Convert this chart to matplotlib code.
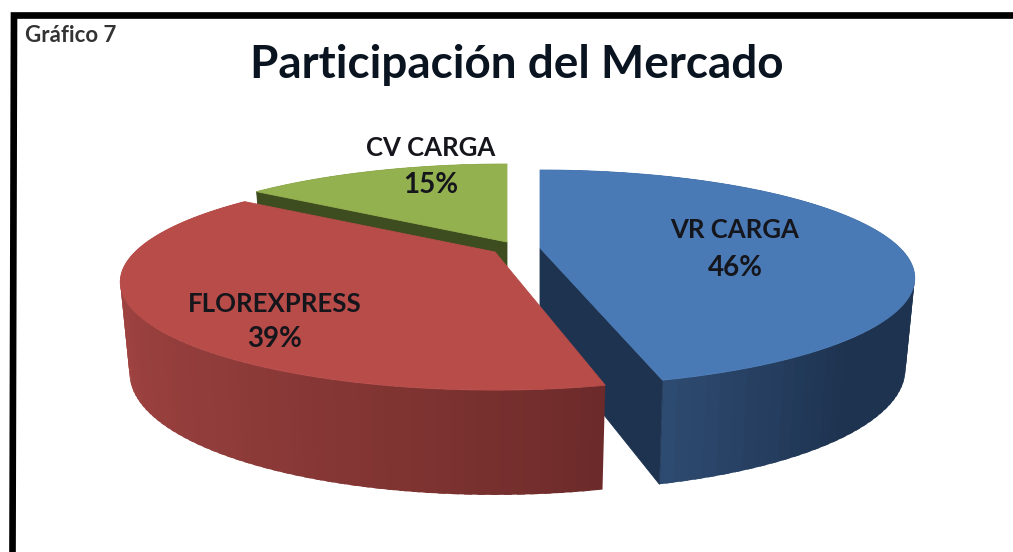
#!/usr/bin/env python3
# -*- coding: utf-8 -*-
"""
Description: 3D looking exploded pie chart of market share, Grafico 7
Outputs: out.png
"""
import numpy as np
import matplotlib
matplotlib.use("Agg")
import matplotlib.pyplot as plt
from matplotlib.colors import to_rgb

# chart data
categories = ["VR CARGA", "FLOREXPRESS", "CV CARGA"]
shares = [46, 39, 15]
title = "Participación del Mercado"
chart_tag = "Gráfico 7"

# look of each slice, same order as categories
centers = [(540, 248), (495, 252), (507, 242)]
top_colors = ["#4a7ab5", "#b74c49", "#94b150"]
side_stops = [
    [(138, "#1e3350"), (165, "#2d4a70")],
    [(167, "#6c2a2a"), (185, "#7c3230"), (215, "#8f3c3a"), (250, "#a04341"), (280, "#ad4845")],
    [(300, "#3e4d20"), (360, "#3e4d20")],
]
cut_colors = ["#1e3350", "#6c2a2a", "#3e4d20"]
cut_side = ["end", None, "start"]
start_pad = [0, 1.5, 0]
label_pos = [(735, 230), (275, 304), (431, 148)]
value_pos = [(735, 268), (275, 339), (431, 185)]

# perspective of the pie
RADIUS = 360
SQUASH = 99.7
PERSP = 0.278
DEPTH = 87
FONT = ["Lato", "DejaVu Sans"]


def top_point(center, t):
    """Point on the top face, t in degrees clockwise from 12 o'clock"""
    r = np.radians(t)
    w = 1 + PERSP * np.cos(r)
    return (center[0] + RADIUS * np.sin(r) / w,
            center[1] - SQUASH * np.cos(r) / w)


def bottom_point(center, t):
    """Same point on the lower rim of the slice"""
    x, y = top_point(center, t)
    depth = DEPTH / (1 + 0.17 * np.cos(np.radians(t)))
    return center[0] + (x - center[0]) * 0.975, y + depth


def side_color(stops, t):
    angles = [s[0] for s in stops]
    rgb = np.array([to_rgb(s[1]) for s in stops])
    return [np.interp(t, angles, rgb[:, i]) for i in range(3)]


def draw_slice(ax, i, start, end):
    center = centers[i]
    angles = np.linspace(start, end, 90)
    step = angles[1] - angles[0]

    # outer wall as thin strips so the shading runs along the rim
    # far strips first, each one a bit wider to hide the seams
    for a in sorted(angles[:-1], key=lambda v: -np.cos(np.radians(v))):
        b = min(a + step * 1.6, end)
        xa, ya = top_point(center, a)
        xb, yb = top_point(center, b)
        xc, yc = bottom_point(center, b)
        xd, yd = bottom_point(center, a)
        color = side_color(side_stops[i], a + step / 2)
        ax.fill([xa, xb, xc, xd], [ya, yb, yc, yd], color=color, lw=0)

    # cut wall, only where the camera sees it
    if cut_side[i] is not None:
        t = end if cut_side[i] == "end" else start
        rim_top = top_point(center, t)
        rim_low = bottom_point(center, t)
        ax.fill([center[0], rim_top[0], rim_low[0], center[0]],
                [center[1], rim_top[1], rim_low[1], center[1] + DEPTH],
                color=cut_colors[i], lw=0.6)

    # top face
    pts = [top_point(center, t) for t in angles]
    ax.fill([center[0]] + [p[0] for p in pts],
            [center[1]] + [p[1] for p in pts],
            color=top_colors[i], lw=0.6)


def main():
    fig = plt.figure(figsize=(10.13, 5.52), dpi=100)
    ax = fig.add_axes([0, 0, 1, 1])
    ax.set_xlim(0, 1013)
    ax.set_ylim(552, 0)
    ax.axis("off")

    # slice angles come from the shares
    edges = np.concatenate([[0], np.cumsum(shares)]) * 360 / sum(shares)

    # back slice first, red one goes over the others
    for i in [2, 0, 1]:
        draw_slice(ax, i, edges[i] + start_pad[i], edges[i + 1])

    for i, name in enumerate(categories):
        ax.text(label_pos[i][0], label_pos[i][1], name, ha="center", va="center",
                fontsize=18.5, fontweight="bold", color="#15151c", family=FONT)
        ax.text(value_pos[i][0], value_pos[i][1], "%d%%" % shares[i], ha="center",
                va="center", fontsize=20, fontweight="bold", color="#15151c",
                family=FONT)

    ax.text(517, 65, title, ha="center", va="center", fontsize=33,
            fontweight="bold", color="#0a1420", family=FONT)
    ax.text(25, 35, chart_tag, ha="left", va="center", fontsize=16,
            fontweight="bold", color="#333333", family=FONT)

    # black frame, only top and left sides in the picture
    ax.plot([12.5, 14, 1013], [552, 15.5, 15.5], color="black", lw=4.8,
            solid_joinstyle="miter")

    fig.savefig("out.png", dpi=100)


if __name__ == "__main__":
    main()
